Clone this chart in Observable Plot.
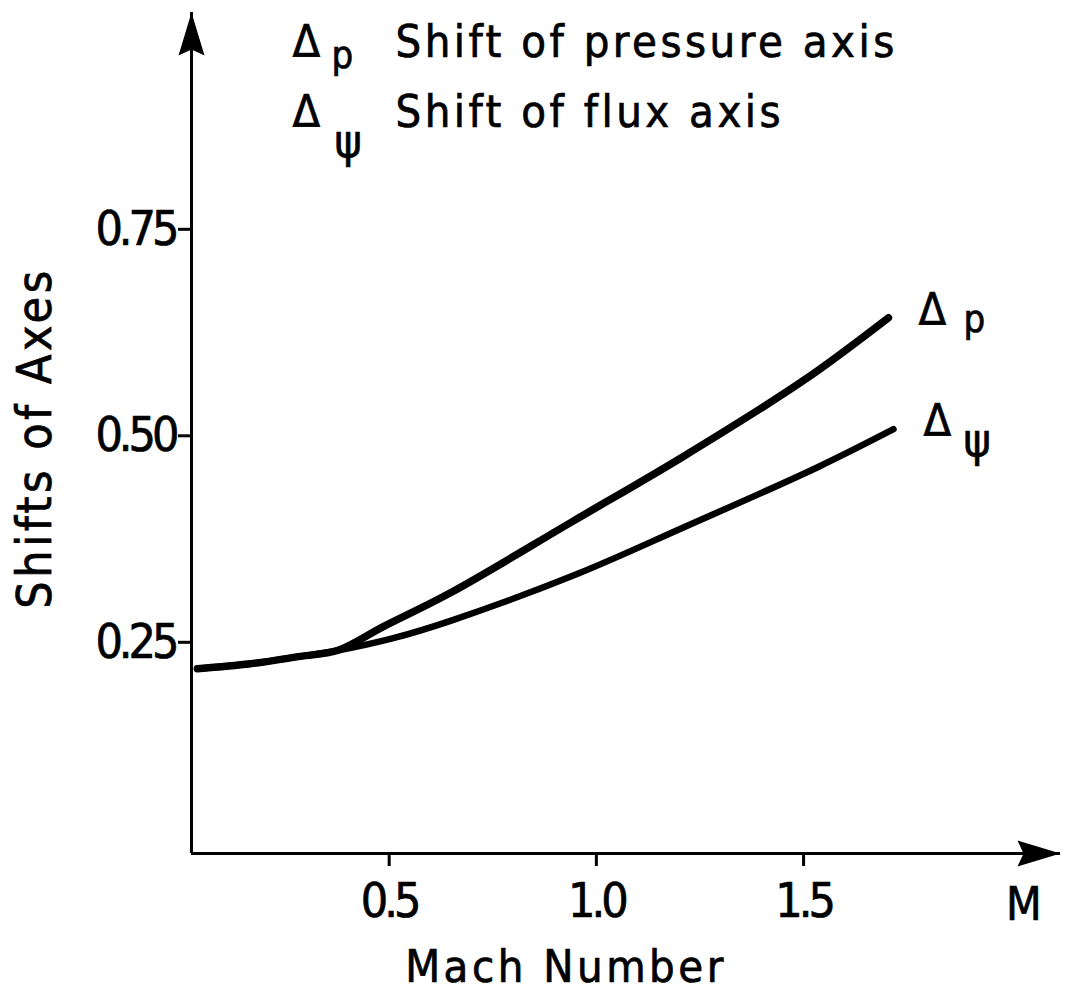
<!DOCTYPE html>
<html>
<head>
<meta charset="utf-8">
<script src="https://cdn.jsdelivr.net/npm/d3@7"></script>
<script src="https://cdn.jsdelivr.net/npm/@observablehq/plot@0.6"></script>
<style>
html, body { margin: 0; padding: 0; background: #fff; }
#chart svg { font-family: "DejaVu Sans Condensed", "DejaVu Sans", sans-serif; display: block; }
#chart svg text { letter-spacing: 3.5px; stroke: black; stroke-width: 0.7px; }
#chart svg g[aria-label="x-axis tick label"] text,
#chart svg g[aria-label="y-axis tick label"] text,
#chart svg g[aria-label="end label"] text { letter-spacing: -4px; }
</style>
</head>
<body>
<div id="chart"></div>
<script>
// Δp : shift of pressure axis
const machP  = [0.037, 0.165, 0.286, 0.375, 0.486, 0.648, 0.945, 1.210, 1.500, 1.705];
const deltaP = [0.218, 0.224, 0.233, 0.240, 0.269, 0.310, 0.397, 0.475, 0.567, 0.643];
// Δψ : shift of flux axis
const machPsi  = [0.037, 0.165, 0.286, 0.375, 0.510, 0.648, 0.955, 1.210, 1.534, 1.717];
const deltaPsi = [0.218, 0.224, 0.233, 0.240, 0.255, 0.276, 0.333, 0.389, 0.462, 0.508];

const seriesSubs   = ["p", "ψ"];
const legendLabels = ["Shift of pressure axis", "Shift of flux axis"];
const xTicks = [0.5, 1.0, 1.5];
const yTicks = [0.25, 0.50, 0.75];
const xDomain = [0.023, 2.12];
const yDomain = [-0.0057, 1.0125];
const xTitle = "Mach Number";
const yTitle = "Shifts of Axes";
const xEndLabel = "M";

const rowsP   = machP.map((m, i) => ({M: m, v: deltaP[i]}));
const rowsPsi = machPsi.map((m, i) => ({M: m, v: deltaPsi[i]}));
const ends = [rowsP[rowsP.length - 1], rowsPsi[rowsPsi.length - 1]];

// filled arrow head, tip at origin pointing up
const arrowHead = {
  draw(ctx) {
    ctx.moveTo(0, 0);
    ctx.lineTo(-13, 43);
    ctx.lineTo(0, 37);
    ctx.lineTo(13, 43);
    ctx.closePath();
  }
};
const arrowTips = [
  {x: xDomain[0], y: yDomain[1], r: 0},
  {x: xDomain[1], y: yDomain[0], r: 90}
];

const legendMarks = [];
legendLabels.forEach((label, i) => {
  const base = 44 + i * 70;
  legendMarks.push(
    Plot.text(["Δ"], {text: d => d, frameAnchor: "top-left", dx: 101, dy: base, textAnchor: "start", lineAnchor: "bottom", fontSize: 45}),
    Plot.text([seriesSubs[i]], {text: d => d, frameAnchor: "top-left", dx: i === 0 ? 140 : 143, dy: i === 0 ? base + 11 : base + 30, textAnchor: "start", lineAnchor: "bottom", fontSize: i === 0 ? 38 : 46}),
    Plot.text([label], {text: d => d, frameAnchor: "top-left", dx: 204, dy: base, textAnchor: "start", lineAnchor: "bottom", fontSize: 45})
  );
});

const chart = Plot.plot({
  width: 1067,
  height: 999,
  marginLeft: 191,
  marginRight: 7,
  marginTop: 12,
  marginBottom: 146,
  style: {background: "white", color: "black", overflow: "visible"},
  x: {domain: xDomain},
  y: {domain: yDomain},
  marks: [
    Plot.ruleX([xDomain[0]], {stroke: "black", strokeWidth: 3}),
    Plot.ruleY([yDomain[0]], {stroke: "black", strokeWidth: 3}),
    Plot.dot(arrowTips, {x: "x", y: "y", rotate: "r", symbol: arrowHead, fill: "black", stroke: "none"}),
    Plot.axisX(xTicks, {tickSize: 13, tickPadding: 16, strokeWidth: 3, fontSize: 48, tickFormat: d => d.toFixed(1), label: null}),
    Plot.axisY(yTicks, {tickSize: 13, tickPadding: 3, strokeWidth: 3, fontSize: 48, tickFormat: d => d.toFixed(2), label: null}),
    Plot.line(rowsPsi, {x: "M", y: "v", curve: "catmull-rom", stroke: "black", strokeWidth: 6.5, strokeLinecap: "round"}),
    Plot.line(rowsP, {x: "M", y: "v", curve: "catmull-rom", stroke: "black", strokeWidth: 7.5, strokeLinecap: "round"}),
    // curve end labels
    Plot.text(ends, {x: "M", y: "v", text: () => "Δ", dx: 30, dy: 7, textAnchor: "start", lineAnchor: "bottom", fontSize: 45}),
    Plot.text([ends[0]], {x: "M", y: "v", text: () => seriesSubs[0], dx: 75, dy: 14, textAnchor: "start", lineAnchor: "bottom", fontSize: 38}),
    Plot.text([ends[1]], {x: "M", y: "v", text: () => seriesSubs[1], dx: 70, dy: 27, textAnchor: "start", lineAnchor: "bottom", fontSize: 46}),
    // axis titles
    Plot.text([xEndLabel], {text: d => d, frameAnchor: "bottom-right", dx: -35, dy: 34, textAnchor: "middle", lineAnchor: "top", fontSize: 46, ariaLabel: "end label"}),
    Plot.text([xTitle], {text: d => d, frameAnchor: "bottom", dx: -60, dy: 128, textAnchor: "middle", lineAnchor: "bottom", fontSize: 45}),
    Plot.text([yTitle], {text: d => d, frameAnchor: "left", rotate: -90, dx: -156, dy: 5, textAnchor: "middle", lineAnchor: "middle", fontSize: 48}),
    ...legendMarks
  ]
});
document.getElementById("chart").appendChild(chart);
</script>
</body>
</html>
